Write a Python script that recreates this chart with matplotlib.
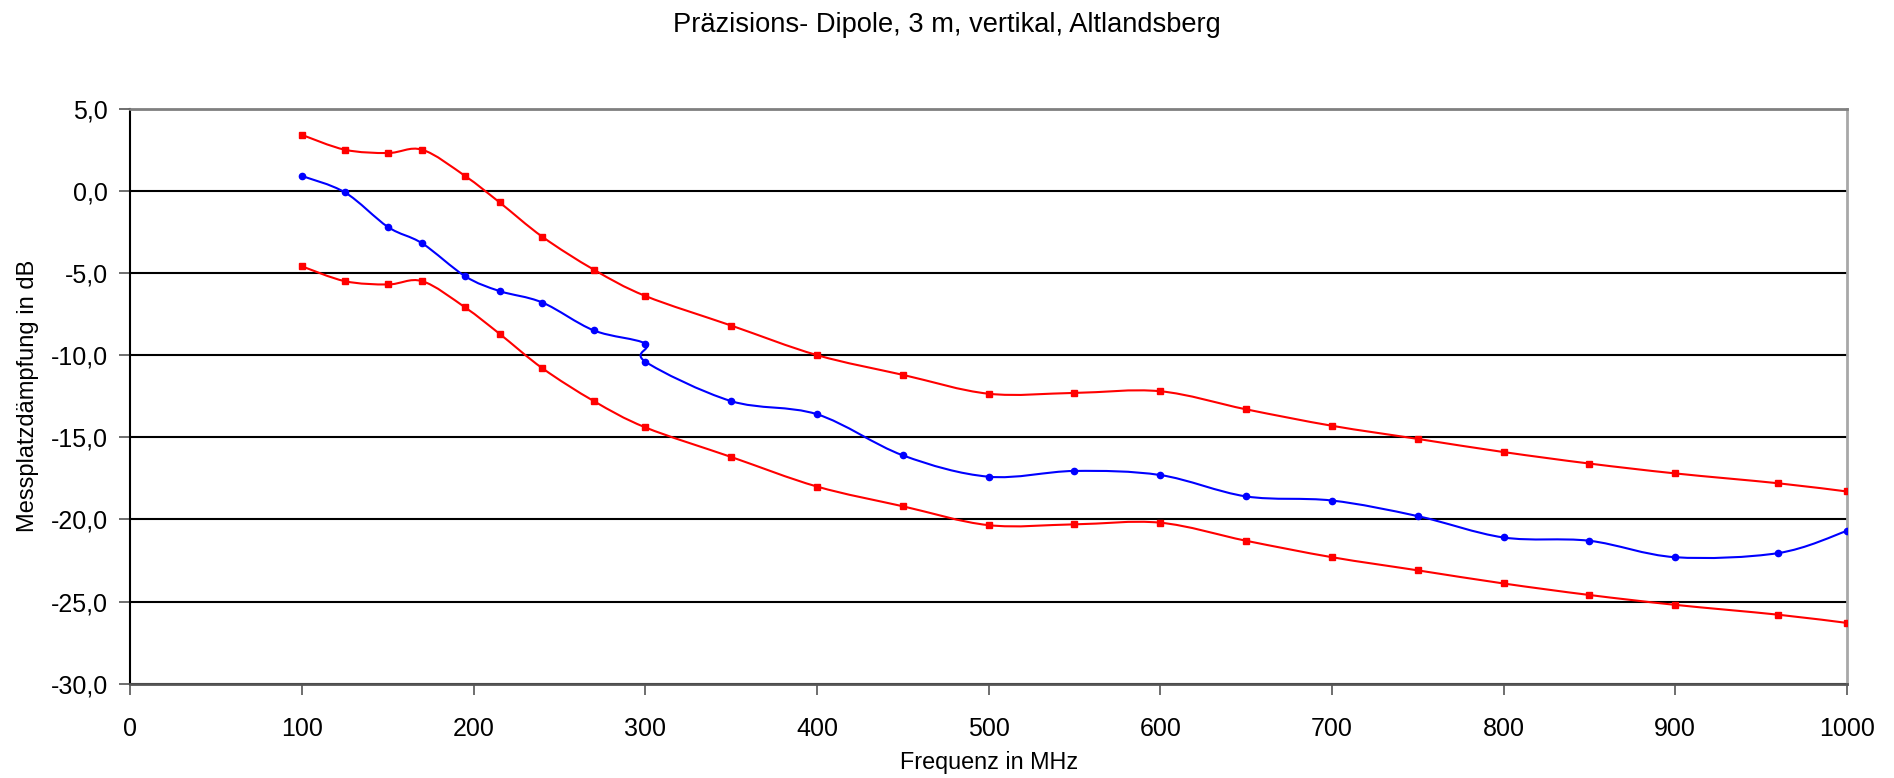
import numpy as np
import matplotlib
matplotlib.use("Agg")
import matplotlib.pyplot as plt
from matplotlib.path import Path
from matplotlib.patches import PathPatch
from matplotlib.ticker import FuncFormatter, MultipleLocator

plt.rcParams['font.family'] = ['Liberation Sans', 'DejaVu Sans']

title = "Präzisions- Dipole, 3 m, vertikal, Altlandsberg"
xlabel = "Frequenz in MHz"
ylabel = "Messplatzdämpfung in dB"

freq_red = [100, 125, 150, 170, 195, 215, 240, 270, 300, 350, 400, 450, 500,
            550, 600, 650, 700, 750, 800, 850, 900, 960, 1000]
upper = [3.4, 2.5, 2.3, 2.5, 0.9, -0.7, -2.8, -4.8, -6.4, -8.2, -10.0, -11.2,
         -12.35, -12.3, -12.2, -13.3, -14.3, -15.1, -15.9, -16.6, -17.2, -17.8, -18.3]
lower = [-4.6, -5.5, -5.7, -5.5, -7.1, -8.7, -10.8, -12.8, -14.4, -16.2, -18.0,
         -19.2, -20.35, -20.3, -20.2, -21.3, -22.3, -23.1, -23.9, -24.6, -25.2,
         -25.8, -26.3]

freq_blue = [100, 125, 150, 170, 195, 215, 240, 270, 300, 300, 350, 400, 450,
             500, 550, 600, 650, 700, 750, 800, 850, 900, 960, 1000]
measured = [0.9, -0.1, -2.2, -3.2, -5.2, -6.1, -6.8, -8.5, -9.3, -10.4, -12.8,
            -13.6, -16.1, -17.4, -17.05, -17.3, -18.6, -18.85, -19.8, -21.1,
            -21.3, -22.3, -22.05, -20.7]


def smooth_path(xs, ys):
    """Excel-style smoothed line: Catmull-Rom Bezier segments in data space."""
    p = np.column_stack([xs, ys]).astype(float)
    n = len(p)
    verts = [p[0]]
    codes = [Path.MOVETO]
    for i in range(n - 1):
        p0 = p[i - 1] if i > 0 else p[i]
        p1 = p[i]
        p2 = p[i + 1]
        p3 = p[i + 2] if i + 2 < n else p[i + 1]
        c1 = p1 + (p2 - p0) / 6.0
        c2 = p2 - (p3 - p1) / 6.0
        verts += [c1, c2, p2]
        codes += [Path.CURVE4] * 3
    return Path(verts, codes)


fig = plt.figure(figsize=(18.94, 7.78), dpi=100)
ax = fig.add_axes([0.0689, 0.1212, 0.9062, 0.7391])

ax.set_xlim(0, 1000)
ax.set_ylim(-30, 5)
ax.yaxis.set_major_locator(MultipleLocator(5))
ax.xaxis.set_major_locator(MultipleLocator(100))
ax.yaxis.set_major_formatter(FuncFormatter(lambda v, p: f"{v:.1f}".replace('.', ',')))

ax.grid(axis='y', color='black', linewidth=1.5)
ax.set_axisbelow(True)

ax.spines['left'].set_color('black')
ax.spines['left'].set_linewidth(1.5)
ax.spines['bottom'].set_color('#555555')
ax.spines['bottom'].set_linewidth(2)
ax.spines['top'].set_color('#808080')
ax.spines['top'].set_linewidth(2)
ax.spines['right'].set_color('#a8a8a8')
ax.spines['right'].set_linewidth(2)

for xs, ys, col in [(freq_red, upper, '#ff0000'), (freq_red, lower, '#ff0000'),
                    (freq_blue, measured, '#0000ff')]:
    ax.add_patch(PathPatch(smooth_path(xs, ys), facecolor='none', edgecolor=col,
                           linewidth=1.5, zorder=3))

ax.plot(freq_red, upper, linestyle='none', marker='s', markersize=5,
        color='#ff0000', zorder=4)
ax.plot(freq_red, lower, linestyle='none', marker='s', markersize=5,
        color='#ff0000', zorder=4)
ax.plot(freq_blue, measured, linestyle='none', marker='o', markersize=4.5,
        color='#0000ff', zorder=4)

ax.tick_params(axis='both', direction='out', length=8, width=1.2,
               labelsize=18, color='#555555')
ax.tick_params(axis='x', pad=16)
ax.tick_params(axis='y', pad=8)

ax.set_xlabel(xlabel, fontsize=16.8, labelpad=7)
ax.set_ylabel(ylabel, fontsize=17, labelpad=9)
fig.suptitle(title, fontsize=19.6, y=0.984)

fig.savefig("out.png", dpi=100)
